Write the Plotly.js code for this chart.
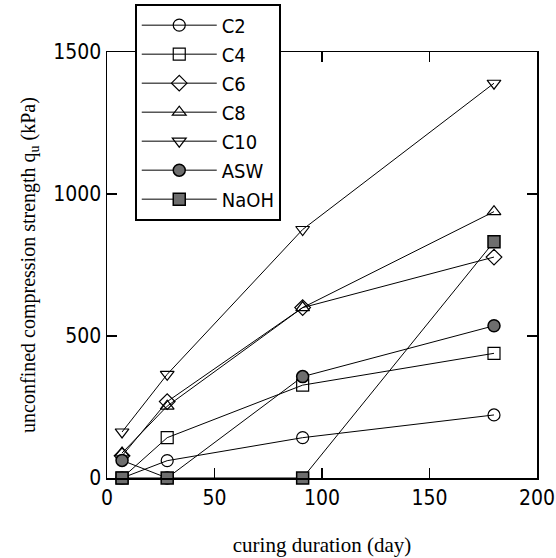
<!DOCTYPE html>
<html>
<head>
<meta charset="utf-8">
<script src="https://cdn.plot.ly/plotly-3.0.1.min.js"></script>
<style>html,body{margin:0;padding:0;background:#fff;}#chart{width:556px;height:558px;}</style>
</head>
<body>
<div id="chart"></div>
<script>
// curing duration (day)
const days = [7, 28, 91, 180];
// unconfined compression strength (kPa)
const C2 = [0, 61, 142, 222];
const C4 = [0, 142, 327, 439];
const C6 = [78, 269, 600, 778];
const C8 = [88, 253, 600, 938];
const C10 = [162, 365, 875, 1390];
const ASW = [62, 0, 357, 536];
const NaOH = [0, 0, 0, 832];
const seriesNames = ["C2", "C4", "C6", "C8", "C10", "ASW", "NaOH"];
const seriesValues = [C2, C4, C6, C8, C10, ASW, NaOH];
const symbols = ["circle-open", "square-open", "diamond-open", "triangle-up-open", "triangle-down-open", "circle", "square"];
const xTicks = [0, 50, 100, 150, 200];
const yTicks = [0, 500, 1000, 1500];

const traces = seriesNames.map((name, i) => {
  const filled = !symbols[i].endsWith("open");
  return {
    x: days, y: seriesValues[i], name: name, type: "scatter", mode: "lines+markers",
    line: {color: "#000", width: 1},
    marker: {symbol: symbols[i], size: 12, color: filled ? "#6e6e6e" : "#000",
             line: {color: "#000", width: filled ? 1.5 : 1.2}},
    cliponaxis: false
  };
});

const tickFont = {family: "'DejaVu Sans Condensed', 'Liberation Sans Narrow', Arial, sans-serif", size: 21, color: "#000"};
const layout = {
  width: 556, height: 558,
  margin: {l: 107, r: 19, t: 52, b: 80, autoexpand: false},
  paper_bgcolor: "#fff", plot_bgcolor: "#fff",
  showlegend: true,
  legend: {
    x: 0.065, y: 1.113, xanchor: "left", yanchor: "top",
    bgcolor: "#fff", bordercolor: "#000", borderwidth: 1.8,
    font: {family: "'DejaVu Sans Condensed', 'Liberation Sans Narrow', Arial, sans-serif", size: 20, color: "#000"},
    itemwidth: 75, tracegroupgap: 0
  },
  xaxis: {
    range: [0, 200], tickvals: xTicks, ticktext: xTicks.map(String),
    ticks: "inside", ticklen: 10, tickwidth: 1.5, tickcolor: "#000",
    showline: true, linecolor: "#000", linewidth: 1.5, mirror: "ticks",
    showgrid: false, zeroline: false, tickfont: tickFont,
    title: {text: "curing duration (day)", font: {family: "'Liberation Serif', 'Times New Roman', serif", size: 21, color: "#000"}, standoff: 28}
  },
  yaxis: {
    range: [0, 1500], tickvals: yTicks, ticktext: yTicks.map(String),
    ticks: "inside", ticklen: 10, tickwidth: 1.5, tickcolor: "#000",
    showline: true, linecolor: "#000", linewidth: 1.5, mirror: "ticks",
    showgrid: false, zeroline: false, tickfont: tickFont,
    title: {text: "unconfined compression strength q<sub>u</sub> (kPa)", font: {family: "'Liberation Serif', 'Times New Roman', serif", size: 20, color: "#000"}, standoff: 12}
  }
};
Plotly.newPlot("chart", traces, layout, {displayModeBar: false, staticPlot: true});
</script>
</body>
</html>
